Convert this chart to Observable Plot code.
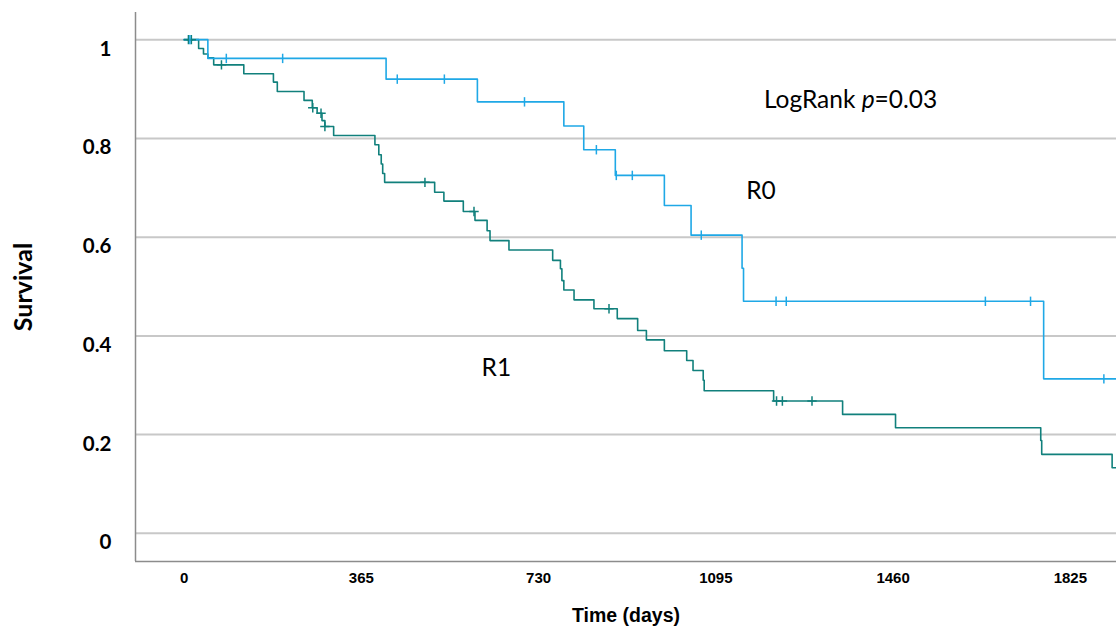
<!DOCTYPE html>
<html><head><meta charset="utf-8">
<script src="https://cdn.jsdelivr.net/npm/d3@7"></script>
<script src="https://cdn.jsdelivr.net/npm/@observablehq/plot@0.6"></script>
<style>body{margin:0;background:#fff}</style>
</head><body><div id="chart"></div>
<script>
// ---- data ----
const xTicks = [0, 365, 730, 1095, 1460, 1825];
const xTickLabels = ["0", "365", "730", "1095", "1460", "1825"];
const yTicks = [0, 0.2, 0.4, 0.6, 0.8, 1];
const yTickLabels = ["0", "0.2", "0.4", "0.6", "0.8", "1"];
const xLabel = "Time (days)";
const yLabel = "Survival";

// R0 Kaplan–Meier steps (time in days, survival)
const r0Time = [0, 49, 416, 604, 782, 823, 888, 989, 1044, 1149, 1152, 1770, 1925];
const r0Surv = [1, 0.962, 0.920, 0.874, 0.825, 0.777, 0.725, 0.664, 0.604, 0.537, 0.470, 0.313, 0.313];
const r0CensorTime = [12, 87, 203, 439, 536, 701, 849, 890, 923, 1065, 1219, 1240, 1650, 1743, 1894];
const r0CensorSurv = [1, 0.962, 0.962, 0.920, 0.920, 0.874, 0.777, 0.725, 0.725, 0.604, 0.470, 0.470, 0.470, 0.470, 0.313];

// R1 Kaplan–Meier steps
const r1Time = [0, 30, 40, 49, 61, 123, 184, 192, 247, 264, 274, 284, 290, 308, 393, 401, 406, 409, 413,
  516, 535, 575, 599, 624, 630, 669, 759, 775, 778, 782, 803, 844, 892, 934, 952, 989, 1035, 1048, 1069, 1071,
  1214, 1356, 1465, 1764, 1766, 1911, 1925];
const r1Surv = [1, 0.982, 0.971, 0.963, 0.949, 0.931, 0.914, 0.895, 0.877, 0.862, 0.851, 0.836, 0.824, 0.806,
  0.787, 0.767, 0.748, 0.729, 0.711, 0.691, 0.673, 0.652, 0.634, 0.613, 0.593, 0.574, 0.553, 0.536, 0.512, 0.493,
  0.473, 0.455, 0.435, 0.411, 0.392, 0.370, 0.350, 0.330, 0.310, 0.289, 0.268, 0.241, 0.214, 0.188, 0.160, 0.133, 0.133];
const r1CensorTime = [9, 15, 77, 265, 282, 290, 496, 597, 875, 1220, 1232, 1293];
const r1CensorSurv = [1, 1, 0.949, 0.862, 0.851, 0.824, 0.711, 0.652, 0.455, 0.268, 0.268, 0.268];

// annotations (data coordinates)
const statLabel = ["LogRank p=0.03"];
const statTime = [1194];
const statSurv = [0.877];
const groupLabels = ["R0", "R1"];
const groupTimes = [1188, 643];
const groupSurv = [0.693, 0.334];

// ---- build tables ----
const r0 = r0Time.map((t, i) => ({t, s: r0Surv[i]}));
const r1 = r1Time.map((t, i) => ({t, s: r1Surv[i]}));
const r0c = r0CensorTime.map((t, i) => ({t, s: r0CensorSurv[i]}));
const r1c = r1CensorTime.map((t, i) => ({t, s: r1CensorSurv[i]}));
const stat = statLabel.map((label, i) => ({label, t: statTime[i], s: statSurv[i]}));
const groups = groupLabels.map((label, i) => ({label, t: groupTimes[i], s: groupSurv[i]}));
const xt = xTicks.map((t, i) => ({t, label: xTickLabels[i]}));

const blue = "#1fa8e6";
const teal = "#11807c";
const xDomain = [-100, 1920];
const yDomain = [-0.057, 1.055];

const tickSymbol = {draw(ctx, size) { const h = Math.sqrt(size / Math.PI); ctx.moveTo(0, -h); ctx.lineTo(0, h); }};
const plusSymbol = {draw(ctx, size) { const h = Math.sqrt(size / Math.PI); ctx.moveTo(0, -h); ctx.lineTo(0, h); ctx.moveTo(-h, 0); ctx.lineTo(h, 0); }};

const chart = Plot.plot({
  width: 1116, height: 631,
  marginLeft: 135, marginRight: 0, marginTop: 12, marginBottom: 70,
  style: {background: "#fff", fontFamily: "Lato", color: "#000", overflow: "visible"},
  x: {domain: xDomain, label: null, axis: null},
  y: {domain: yDomain, label: null},
  marks: [
    Plot.ruleY(yTicks, {stroke: "#c8c8c8", strokeWidth: 2}),
    Plot.ruleX([xDomain[0]], {stroke: "#8c8c8c", strokeWidth: 1.5}),
    Plot.ruleY([yDomain[0]], {stroke: "#8c8c8c", strokeWidth: 1.5}),
    Plot.text(xt, {x: "t", text: "label", frameAnchor: "bottom", dy: 17, lineAnchor: "middle", textAnchor: "middle",
      fontFamily: "Liberation Sans", fontWeight: "bold", fontSize: 15, fill: "#000"}),
    Plot.axisY(yTicks, {tickSize: 0, tickPadding: 24, dy: 9.5, fontFamily: "Lato", fontWeight: "bold", fontSize: 20.5, label: null, fill: "#000",
      tickFormat: d => yTickLabels[yTicks.indexOf(d)]}),
    Plot.line(r1, {x: "t", y: "s", curve: "step-after", stroke: teal, strokeWidth: 1.6, clip: true}),
    Plot.line(r0, {x: "t", y: "s", curve: "step-after", stroke: blue, strokeWidth: 1.6, clip: true}),
    Plot.dot(r1c, {x: "t", y: "s", symbol: plusSymbol, r: 4.7, stroke: teal, fill: "none", strokeWidth: 1.5}),
    Plot.dot(r0c, {x: "t", y: "s", symbol: tickSymbol, r: 4.7, stroke: blue, fill: "none", strokeWidth: 1.5}),
    Plot.text(stat, {x: "t", y: "s", text: "label", textAnchor: "start", lineAnchor: "middle",
      fontFamily: "Lato", fontSize: 24.5, fill: "#000"}),
    Plot.text(groups, {x: "t", y: "s", text: "label", textAnchor: "middle", lineAnchor: "middle",
      fontFamily: "Lato", fontSize: 24.5, fill: "#000"}),
    Plot.text([xLabel], {text: d => d, frameAnchor: "bottom", dy: 54, lineAnchor: "middle", textAnchor: "middle",
      fontFamily: "Liberation Sans", fontWeight: "bold", fontSize: 19.5, fill: "#000"}),
    Plot.text([yLabel], {text: d => d, frameAnchor: "left", dx: -112, rotate: -90, lineAnchor: "middle", textAnchor: "middle",
      fontFamily: "Lato", fontWeight: "bold", fontSize: 25, fill: "#000"})
  ]
});
document.getElementById("chart").appendChild(chart);

// italic "p" in the LogRank annotation
d3.select(chart).selectAll("text").each(function() {
  const txt = this.textContent;
  if (txt === statLabel[0]) {
    const m = txt.match(/^(.*\s)(p)(=.*)$/);
    if (m) {
      const sel = d3.select(this);
      sel.text(null);
      sel.append("tspan").text(m[1]);
      sel.append("tspan").attr("font-style", "italic").text(m[2]);
      sel.append("tspan").text(m[3]);
    }
  }
});
</script>
</body></html>
